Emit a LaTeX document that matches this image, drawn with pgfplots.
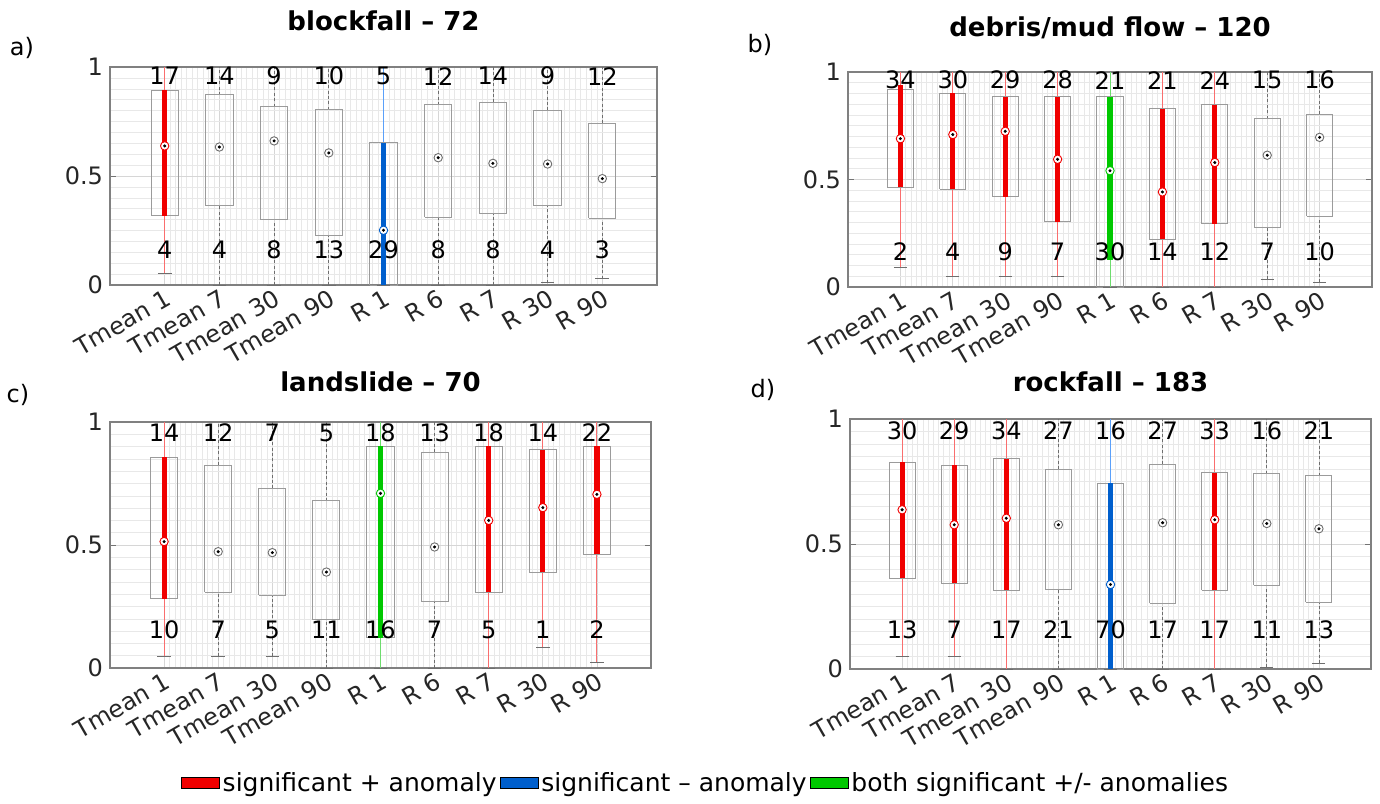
\documentclass[border=0pt]{standalone}
\usepackage{pgfplots}
\pgfplotsset{compat=1.18}
\usepackage{fontspec}
\setmainfont{DejaVu Sans}

\definecolor{sigred}{RGB}{240,0,0}
\definecolor{sigredthin}{RGB}{250,110,110}
\definecolor{sigblue}{RGB}{0,95,205}
\definecolor{sigbluethin}{RGB}{90,160,250}
\definecolor{siggreen}{RGB}{0,200,0}
\definecolor{siggreenthin}{RGB}{110,220,110}
\definecolor{boxgray}{RGB}{155,155,155}
\definecolor{medgray}{RGB}{110,110,110}

% box outline and cap: pos, lower whisker, q1, q3
\newcommand{\BoxOut}[4]{%
  \pgfmathsetmacro\bxL{#1-0.25}\pgfmathsetmacro\bxR{#1+0.25}%
  \pgfmathsetmacro\cpL{#1-0.125}\pgfmathsetmacro\cpR{#1+0.125}%
  \addplot[draw=boxgray, line width=0.5pt] coordinates {(\bxL,#3) (\bxR,#3) (\bxR,#4) (\bxL,#4) (\bxL,#3)};
  \addplot[draw=medgray, line width=0.4pt] coordinates {(\cpL,#2) (\cpR,#2)};
}
% normal box: pos, lower whisker, q1, median, q3
\newcommand{\Nbx}[5]{%
  \addplot[draw=medgray, dash pattern=on 1.5pt off 1.2pt, line width=0.35pt] coordinates {(#1,#5) (#1,1)};
  \addplot[draw=medgray, dash pattern=on 1.5pt off 1.2pt, line width=0.35pt] coordinates {(#1,#2) (#1,#3)};
  \BoxOut{#1}{#2}{#3}{#5}
  \addplot[only marks, mark=*, mark size=2.1pt, mark options={fill=white, draw=medgray, line width=0.45pt}] coordinates {(#1,#4)};
  \addplot[only marks, mark=*, mark size=0.55pt, black] coordinates {(#1,#4)};
}
% significant box: colour, pos, lower whisker, q1, median, q3, bar low, bar high
\newcommand{\Sbx}[8]{%
  \addplot[draw=#1thin, line width=0.5pt] coordinates {(#2,#3) (#2,1)};
  \BoxOut{#2}{#3}{#4}{#6}
  \addplot[draw=#1, line width=2.6pt] coordinates {(#2,#7) (#2,#8)};
  \addplot[only marks, mark=*, mark size=2.1pt, mark options={fill=white, draw=#1, line width=0.45pt}] coordinates {(#2,#5)};
  \addplot[only marks, mark=*, mark size=0.55pt, black] coordinates {(#2,#5)};
}

\pgfplotsset{
  panel/.style={
    scale only axis, anchor=north west,
    xmin=0, xmax=10, ymin=0, ymax=1,
    xtick={1,...,9},
    xticklabels={Tmean 1, Tmean 7, Tmean 30, Tmean 90, R 1, R 6, R 7, R 30, R 90},
    ytick={0,0.5,1},
    minor x tick num=9, minor y tick num=9,
    grid=both,
    major grid style={black!16, line width=0.4pt},
    minor grid style={black!9, line width=0.3pt},
    axis line style={black!50, line width=0.6pt},
    x tick style={draw=none}, minor tick length=0pt,
    y tick style={black!55, line width=0.5pt}, major tick length=3pt,
    tick label style={font=\fontsize{12}{14}\selectfont, text=black!85},
    /pgf/number format/assume math mode=true,
    xticklabel style={rotate=30, anchor=north east, inner sep=1pt},
    title style={font=\bfseries\fontsize{13}{15}\selectfont},
  },
  cnt/.style={draw=none, mark=none, nodes near coords, point meta=explicit symbolic,
    nodes near coords style={anchor=center, font=\fontsize{12}{14}\selectfont, text=black}},
}

\begin{document}
\begin{tikzpicture}
\path[use as bounding box] (0,0) rectangle (690pt,-401.5pt);

\node[font=\fontsize{12}{14}\selectfont] at (11pt,-24pt) {a)};
\node[font=\fontsize{12}{14}\selectfont] at (380pt,-22.5pt) {b)};
\node[font=\fontsize{12}{14}\selectfont] at (9pt,-197.5pt) {c)};
\node[font=\fontsize{12}{14}\selectfont] at (381.5pt,-195pt) {d)};

% ---------------- a) blockfall
\begin{axis}[panel, at={(55pt,-33.5pt)}, width=273.5pt, height=109pt,
  title={blockfall \textendash{} 72}, title style={yshift=8.5pt}]
\Sbx{sigred}{1}{0.054}{0.317}{0.638}{0.894}{0.317}{0.894}
\Nbx{2}{0}{0.364}{0.633}{0.872}
\Nbx{3}{0}{0.301}{0.661}{0.818}
\Nbx{4}{0}{0.226}{0.606}{0.804}
\Sbx{sigblue}{5}{0}{0}{0.251}{0.653}{0}{0.653}
\Nbx{6}{0}{0.310}{0.584}{0.826}
\Nbx{7}{0}{0.329}{0.558}{0.838}
\Nbx{8}{0.011}{0.364}{0.555}{0.801}
\Nbx{9}{0.028}{0.306}{0.488}{0.743}
\addplot[cnt] coordinates {(1,0.958)[17] (2,0.958)[14] (3,0.958)[9] (4,0.958)[10] (5,0.958)[5] (6,0.958)[12] (7,0.958)[14] (8,0.958)[9] (9,0.958)[12]};
\addplot[cnt] coordinates {(1,0.163)[4] (2,0.163)[4] (3,0.163)[8] (4,0.163)[13] (5,0.163)[29] (6,0.163)[8] (7,0.163)[8] (8,0.163)[4] (9,0.163)[3]};
\end{axis}

% ---------------- b) debris/mud flow
\begin{axis}[panel, at={(424pt,-36pt)}, width=262pt, height=107.5pt,
  title={debris/mud flow \textendash{} 120}, title style={yshift=7pt}]
\Sbx{sigred}{1}{0.090}{0.464}{0.690}{0.918}{0.464}{0.938}
\Sbx{sigred}{2}{0.050}{0.454}{0.709}{0.901}{0.454}{0.901}
\Sbx{sigred}{3}{0.050}{0.419}{0.724}{0.884}{0.419}{0.884}
\Sbx{sigred}{4}{0.050}{0.304}{0.594}{0.884}{0.304}{0.884}
\Sbx{siggreen}{5}{0}{0}{0.541}{0.884}{0.127}{0.884}
\Sbx{sigred}{6}{0}{0.222}{0.442}{0.830}{0.222}{0.830}
\Sbx{sigred}{7}{0}{0.295}{0.579}{0.847}{0.295}{0.847}
\Nbx{8}{0.036}{0.279}{0.613}{0.783}
\Nbx{9}{0.023}{0.329}{0.696}{0.803}
\addplot[cnt] coordinates {(1,0.962)[34] (2,0.962)[30] (3,0.962)[29] (4,0.962)[28] (5,0.962)[21] (6,0.962)[21] (7,0.962)[24] (8,0.962)[15] (9,0.962)[16]};
\addplot[cnt] coordinates {(1,0.163)[2] (2,0.163)[4] (3,0.163)[9] (4,0.163)[7] (5,0.163)[30] (6,0.163)[14] (7,0.163)[12] (8,0.163)[7] (9,0.163)[10]};
\end{axis}

% ---------------- c) landslide
\begin{axis}[panel, at={(55pt,-211pt)}, width=270.5pt, height=123pt,
  title={landslide \textendash{} 70}, title style={yshift=5.5pt}]
\Sbx{sigred}{1}{0.049}{0.282}{0.514}{0.856}{0.282}{0.856}
\Nbx{2}{0.049}{0.308}{0.473}{0.825}
\Nbx{3}{0.049}{0.295}{0.469}{0.730}
\Nbx{4}{0}{0.196}{0.390}{0.679}
\Sbx{siggreen}{5}{0}{0.122}{0.710}{0.901}{0.122}{0.901}
\Nbx{6}{0}{0.272}{0.492}{0.878}
\Sbx{sigred}{7}{0}{0.308}{0.600}{0.901}{0.308}{0.901}
\Sbx{sigred}{8}{0.085}{0.390}{0.652}{0.888}{0.390}{0.888}
\Sbx{sigred}{9}{0.023}{0.463}{0.706}{0.901}{0.463}{0.901}
\addplot[cnt] coordinates {(1,0.955)[14] (2,0.955)[12] (3,0.955)[7] (4,0.955)[5] (5,0.955)[18] (6,0.955)[13] (7,0.955)[18] (8,0.955)[14] (9,0.955)[22]};
\addplot[cnt] coordinates {(1,0.155)[10] (2,0.155)[7] (3,0.155)[5] (4,0.155)[11] (5,0.155)[16] (6,0.155)[7] (7,0.155)[5] (8,0.155)[1] (9,0.155)[2]};
\end{axis}

% ---------------- d) rockfall
\begin{axis}[panel, at={(425pt,-209.5pt)}, width=260.5pt, height=125pt,
  title={rockfall \textendash{} 183}, title style={yshift=4pt}]
\Sbx{sigred}{1}{0.049}{0.363}{0.637}{0.828}{0.363}{0.828}
\Sbx{sigred}{2}{0.049}{0.344}{0.577}{0.816}{0.344}{0.816}
\Sbx{sigred}{3}{0}{0.316}{0.603}{0.842}{0.316}{0.842}
\Nbx{4}{0}{0.318}{0.577}{0.800}
\Sbx{sigblue}{5}{0}{0}{0.338}{0.744}{0}{0.744}
\Nbx{6}{0}{0.263}{0.585}{0.820}
\Sbx{sigred}{7}{0}{0.315}{0.597}{0.786}{0.315}{0.786}
\Nbx{8}{0.007}{0.336}{0.582}{0.782}
\Nbx{9}{0.024}{0.268}{0.561}{0.774}
\addplot[cnt] coordinates {(1,0.952)[30] (2,0.952)[29] (3,0.952)[34] (4,0.952)[27] (5,0.952)[16] (6,0.952)[27] (7,0.952)[33] (8,0.952)[16] (9,0.952)[21]};
\addplot[cnt] coordinates {(1,0.156)[13] (2,0.156)[7] (3,0.156)[17] (4,0.156)[21] (5,0.156)[70] (6,0.156)[17] (7,0.156)[17] (8,0.156)[11] (9,0.156)[13]};
\end{axis}

% ---------------- legend
\begin{axis}[hide axis, scale only axis, width=1pt, height=1pt, at={(353pt,-391.5pt)}, anchor=center,
  xmin=0, xmax=1, ymin=0, ymax=1,
  legend columns=3,
  legend image code/.code={\fill[#1] (0pt,-2.6pt) rectangle (19pt,2.6pt);},
  legend style={at={(0.5,0.5)}, anchor=center, draw=none, fill=none,
    font=\fontsize{12.5}{14}\selectfont, inner sep=0pt,
    nodes={inner xsep=1.5pt, inner ysep=1pt},
    /tikz/every even column/.append style={column sep=0pt}}]
\addlegendimage{fill=sigred}
\addlegendentry{significant + anomaly}
\addlegendimage{fill=sigblue}
\addlegendentry{significant \textendash{} anomaly}
\addlegendimage{fill=siggreen}
\addlegendentry{both significant +/- anomalies}
\end{axis}
\end{tikzpicture}
\end{document}
